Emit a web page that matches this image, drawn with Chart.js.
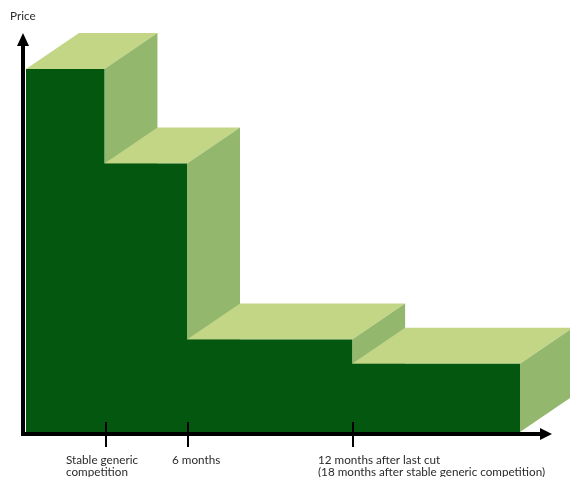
<!DOCTYPE html>
<html>
<head>
<meta charset="utf-8">
<script src="https://cdn.jsdelivr.net/npm/chart.js@4.4.1/dist/chart.umd.min.js"></script>
<style>
  html, body { margin: 0; padding: 0; background: #fff; }
  #wrap { width: 570px; height: 477px; position: relative; }
</style>
</head>
<body>
<div id="wrap"><canvas id="canvas-1"></canvas></div>
<script>
// step boundaries in months relative to stable generic competition
var stepStarts = [-5.7, 0, 6, 18];
var stepEnd = 30.2;
// relative price level of each step (first step = 100)
var prices = [100, 74, 25.5, 18.8];
// x axis tick marks and their labels
var tickValues = [0.1, 6.05, 18.05];
var tickLabels = [
    ['Stable generic', 'competition'],
    ['6 months'],
    ['12 months after last cut', '(18 months after stable generic competition)']
];
var yTitle = 'Price';

var frontColor = '#03570f';
var topColor = '#c2d686';
var sideColor = '#93b76c';
var depthX = 53, depthY = -36;
var labelShift = [-40, -16, -35]; // label start relative to tick

var points = [];
for (var i = 0; i < stepStarts.length; i++) {
    points.push({ x: stepStarts[i], y: prices[i] });
}
points.push({ x: stepEnd, y: prices[prices.length - 1] });

var stairsPlugin = {
    id: 'stairs',
    beforeDatasetsDraw: function (chart) {
        var ctx = chart.ctx;
        var xs = chart.scales.x, ys = chart.scales.y;
        var base = ys.getPixelForValue(0);
        ctx.save();
        for (var i = 0; i < prices.length; i++) {
            var x0 = xs.getPixelForValue(stepStarts[i]);
            var x1 = xs.getPixelForValue(i + 1 < stepStarts.length ? stepStarts[i + 1] : stepEnd);
            var yt = ys.getPixelForValue(prices[i]);

            // top face
            ctx.beginPath();
            ctx.moveTo(x0, yt);
            ctx.lineTo(x1, yt);
            ctx.lineTo(x1 + depthX, yt + depthY);
            ctx.lineTo(x0 + depthX, yt + depthY);
            ctx.closePath();
            ctx.fillStyle = topColor;
            ctx.fill();

            // side face
            ctx.beginPath();
            ctx.moveTo(x1, yt);
            ctx.lineTo(x1 + depthX, yt + depthY);
            ctx.lineTo(x1 + depthX, base + depthY);
            ctx.lineTo(x1, base);
            ctx.closePath();
            ctx.fillStyle = sideColor;
            ctx.fill();
        }
        ctx.restore();
    },
    afterDatasetsDraw: function (chart) {
        var ctx = chart.ctx;
        var xs = chart.scales.x, ys = chart.scales.y;
        var base = ys.getPixelForValue(0) + 2;
        var axisX = xs.getPixelForValue(stepStarts[0]) - 3;
        ctx.save();
        ctx.fillStyle = '#000';
        ctx.strokeStyle = '#000';

        // y axis with arrow
        ctx.fillRect(axisX - 2, 44, 4, base - 44 + 2);
        ctx.beginPath();
        ctx.moveTo(axisX, 33);
        ctx.lineTo(axisX + 6, 46);
        ctx.lineTo(axisX - 6, 46);
        ctx.closePath();
        ctx.fill();

        // x axis with arrow
        ctx.fillRect(axisX - 2, base - 2, 542 - axisX, 4);
        ctx.beginPath();
        ctx.moveTo(552, base);
        ctx.lineTo(540, base - 6);
        ctx.lineTo(540, base + 6);
        ctx.closePath();
        ctx.fill();

        // tick marks and labels
        ctx.font = '11.7px Lato, "Open Sans", sans-serif';
        ctx.textBaseline = 'alphabetic';
        ctx.textAlign = 'left';
        for (var i = 0; i < tickValues.length; i++) {
            var tx = Math.round(xs.getPixelForValue(tickValues[i]));
            ctx.fillStyle = '#000';
            ctx.fillRect(tx - 1, base - 12, 2, 25);
            ctx.fillStyle = '#2b2b2b';
            for (var j = 0; j < tickLabels[i].length; j++) {
                ctx.fillText(tickLabels[i][j], tx + labelShift[i], 464 + j * 12);
            }
        }

        // axis title
        ctx.fillStyle = '#2b2b2b';
        ctx.fillText(yTitle, 10, 20);
        ctx.restore();
    }
};

var stairsChart = new Chart(document.getElementById('canvas-1'), {
    type: 'line',
    data: {
        datasets: [{
            data: points,
            stepped: 'before',
            fill: 'origin',
            backgroundColor: frontColor,
            borderWidth: 0,
            pointRadius: 0
        }]
    },
    options: {
        responsive: true,
        maintainAspectRatio: false,
        animation: false,
        layout: {
            padding: { left: 26, right: 50, top: 69, bottom: 45 }
        },
        plugins: {
            legend: { display: false },
            tooltip: { enabled: false }
        },
        scales: {
            x: { type: 'linear', min: stepStarts[0], max: stepEnd, display: false },
            y: { min: 0, max: 100, display: false }
        }
    },
    plugins: [stairsPlugin]
});
</script>
</body>
</html>
